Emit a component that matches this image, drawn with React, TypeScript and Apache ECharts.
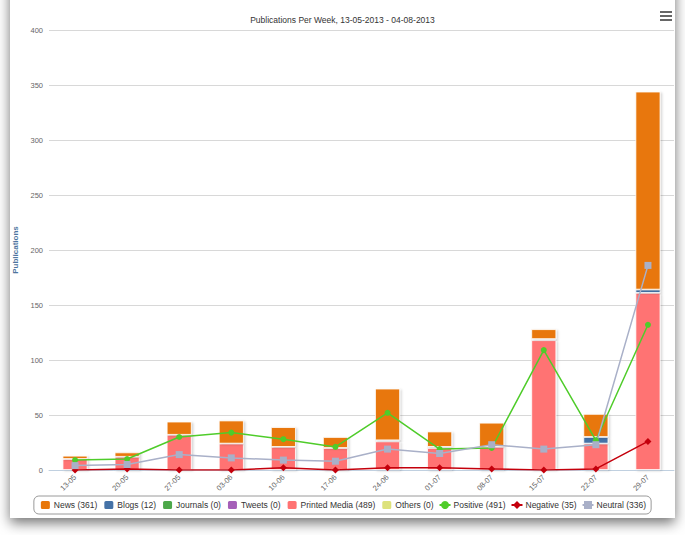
import React, { useEffect, useRef } from "react";
import * as echarts from "echarts";

const categories = ["13-05", "20-05", "27-05", "03-06", "10-06", "17-06", "24-06", "01-07", "08-07", "15-07", "22-07", "29-07"];
const news = [3, 4, 12, 21, 18, 10, 47, 14, 22, 9, 21, 180];
const blogs = [0, 0, 0, 0, 0, 0, 1, 1, 0, 1, 6, 3];
const journals = [0, 0, 0, 0, 0, 0, 0, 0, 0, 0, 0, 0];
const tweets = [0, 0, 0, 0, 0, 0, 0, 0, 0, 0, 0, 0];
const printedMedia = [10, 12, 32, 24, 21, 20, 26, 20, 21, 118, 24, 161];
const others = [0, 0, 0, 0, 0, 0, 0, 0, 0, 0, 0, 0];
const positive = [9, 10, 30, 34, 28, 21, 52, 19, 20, 109, 27, 132];
const negative = [0, 1, 0, 0, 2, 0, 2, 2, 1, 0, 1, 26];
const neutral = [4, 5, 14, 11, 9, 8, 19, 15, 23, 19, 23, 186];

const FONT = "'Liberation Sans', Arial, Helvetica, sans-serif";

const sum = (a: number[]) => a.reduce((s, v) => s + v, 0);

export default function App() {
  const ref = useRef<HTMLDivElement>(null);
  useEffect(() => {
    if (!ref.current) return;
    const chart = echarts.init(ref.current, null, { renderer: "svg" });
    const barStyle = (color: string) => ({
      color,
      borderColor: "#ffffff",
      borderWidth: 0.8,
      shadowColor: "rgba(0,0,0,0.18)",
      shadowBlur: 2,
      shadowOffsetX: 1.5,
      shadowOffsetY: 1,
    });
    const bar = (name: string, data: number[], color: string) => ({
      name: `${name} (${sum(data)})`,
      type: "bar",
      stack: "pubs",
      barWidth: "48%",
      data,
      itemStyle: barStyle(color),
    });
    const line = (name: string, data: number[], color: string, symbol: string, size: number) => ({
      name: `${name} (${sum(data)})`,
      type: "line",
      data,
      symbol,
      symbolSize: size,
      lineStyle: { color, width: 1.5 },
      itemStyle: { color },
      z: 3,
    });
    const newsS = bar("News", news, "#E8770A");
    const blogsS = bar("Blogs", blogs, "#4572A7");
    const journalsS = bar("Journals", journals, "#4DA84A");
    const tweetsS = bar("Tweets", tweets, "#A55FB8");
    const printedS = bar("Printed Media", printedMedia, "#FF7373");
    const othersS = bar("Others", others, "#DDE27C");
    const posS = line("Positive", positive, "#4FCC2A", "circle", 6);
    const negS = line("Negative", negative, "#C4000C", "diamond", 7);
    const neuS = line("Neutral", neutral, "#A9B0C8", "rect", 7);
    const option: any = {
      animation: false,
      textStyle: { fontFamily: FONT },
      title: {
        text: "Publications Per Week, 13-05-2013 - 04-08-2013",
        left: "center",
        top: 10,
        textStyle: { fontSize: 8.5, fontWeight: "normal", color: "#333", fontFamily: FONT },
      },
      legend: {
        data: [newsS.name, blogsS.name, journalsS.name, tweetsS.name, printedS.name, othersS.name, posS.name, negS.name, neuS.name],
        left: "center",
        top: 496,
        padding: [3, 5],
        itemGap: 5,
        itemWidth: 11,
        itemHeight: 10,
        borderColor: "#9a9a9a",
        borderWidth: 1,
        borderRadius: 5,
        textStyle: { fontSize: 8.5, color: "#333", fontFamily: FONT, padding: [0, 0, 0, -2] },
      },
      grid: { left: 49, right: 11, top: 30, bottom: 65 },
      xAxis: {
        type: "category",
        data: categories,
        boundaryGap: true,
        axisLine: { lineStyle: { color: "#C0D0E0" } },
        axisTick: { length: 5, lineStyle: { color: "#C0D0E0" } },
        axisLabel: { rotate: 45, fontSize: 7.5, color: "#666", margin: 6, fontFamily: FONT },
      },
      yAxis: {
        type: "value",
        min: 0,
        max: 400,
        interval: 50,
        name: "Publications",
        nameLocation: "middle",
        nameGap: 19,
        nameTextStyle: { fontSize: 8, fontWeight: "bold", color: "#4D759E", fontFamily: FONT },
        axisLine: { show: false },
        axisTick: { show: false },
        axisLabel: { fontSize: 7.5, color: "#666", margin: 6, fontFamily: FONT },
        splitLine: { lineStyle: { color: "#D8D8D8", width: 1 } },
      },
      graphic: [
        { type: "rect", left: 660, top: 11, shape: { width: 12, height: 2 }, style: { fill: "#666" } },
        { type: "rect", left: 660, top: 15, shape: { width: 12, height: 2 }, style: { fill: "#666" } },
        { type: "rect", left: 660, top: 19, shape: { width: 12, height: 2 }, style: { fill: "#666" } },
      ],
      series: [othersS, printedS, tweetsS, journalsS, blogsS, newsS, posS, negS, neuS],
    };
    chart.setOption(option);
    return () => chart.dispose();
  }, []);
  return (
    <div style={{ position: "fixed", left: 0, top: 0, width: 685, height: 535, background: "#fff", overflow: "hidden" }}>
      <div
        style={{
          position: "absolute",
          left: 10,
          top: -20,
          width: 665,
          height: 538,
          background: "#fff",
          boxShadow: "0 5px 12px rgba(0,0,0,0.55)",
        }}
      />
      <div ref={ref} style={{ position: "absolute", left: 0, top: 0, width: 685, height: 535 }} />
    </div>
  );
}
